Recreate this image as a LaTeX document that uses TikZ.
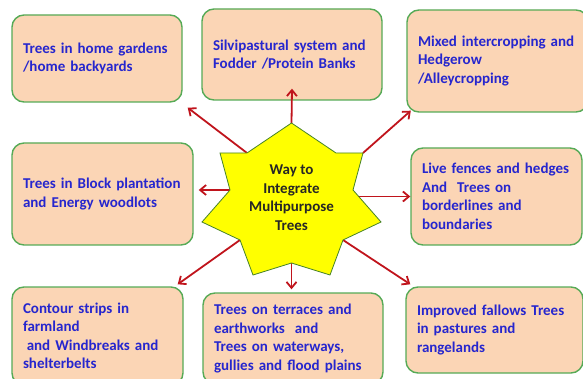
\documentclass[tikz,border=0pt]{standalone}
\usepackage{fontspec}
\setmainfont{Carlito}
\usepackage{tikz}
\usetikzlibrary{arrows.meta, calc}
\usepackage{xcolor}
\definecolor{peach}{RGB}{251,213,181}
\definecolor{boxgreen}{RGB}{86,170,86}
\definecolor{txtblue}{RGB}{38,38,206}
\definecolor{arrowred}{RGB}{192,20,28}
\definecolor{starfill}{RGB}{255,255,0}
\definecolor{stargreen}{RGB}{70,130,40}

\begin{document}
\begin{tikzpicture}[x=1pt, y=-1pt,
  font=\bfseries\fontsize{15}{18.5}\selectfont,
  topic/.style={draw=boxgreen, line width=1.4pt, fill=peach, rounded corners=12pt,
    text=txtblue, align=left, inner xsep=11pt, inner ysep=0pt},
  arr/.style={draw=arrowred, line width=1.8pt, -{Straight Barb[length=6pt,width=10pt]}},
  hubstar/.style={draw=stargreen, line width=0.8pt, fill=starfill}]
  \clip (0,0) rectangle (583,379);

  % topic boxes: top row
  \node[topic, text width=148pt, minimum height=87pt] (b1) at (97,58.5)
    {Trees in home gardens\\/home backyards};
  \node[topic, text width=158pt, minimum height=91pt] (b2) at (292,54.5)
    {Silvipastural system and\\Fodder /Protein Banks};
  \node[topic, text width=159pt, minimum height=102pt] (b3) at (497.5,61)
    {Mixed intercropping and\\Hedgerow\\/Alleycropping};
  % middle row
  \node[topic, text width=159pt, minimum height=102pt] (b4) at (102.5,194)
    {Trees in Block plantation\\and Energy woodlots};
  \node[topic, text width=149pt, minimum height=97pt] (b5) at (496.5,196.5)
    {Live fences and hedges\\And~ Trees on\\borderlines and\\boundaries};
  % bottom row
  \node[topic, text width=149pt, minimum height=98pt] (b6) at (97.5,336)
    {Contour strips in\\farmland\\\hspace*{0.25em}and Windbreaks and\\shelterbelts};
  \node[topic, text width=158pt, minimum height=91pt] (b7) at (293,338.5)
    {Trees on terraces and\\earthworks~ and\\Trees on waterways,\\gullies and flood plains};
  \node[topic, text width=155pt, minimum height=86pt] (b8) at (494.5,330)
    {Improved fallows Trees\\in pastures and\\rangelands};

  % star corners (p = outer points, i = inner notches)
  \foreach \n/\px/\py in {p0/291.5/123, i0/247/153, p1/220/153, i1/230/190,
      p2/202/222, i2/240/240, p3/253/275, i3/291.5/263, p4/330/275,
      i4/343/240, p5/381/222, i5/353/190, p6/363/153, i6/336/153}
    \coordinate (\n) at (\px,\py);

  % arrows out of the star
  \draw[arr] (i0) -- ($(b1.south east)+(5,5)$);
  \draw[arr] (p0) -- ($(b2.south)+(0,-12)$);
  \draw[arr] (p6) -- ($(b3.south west)+(4.5,-2)$);
  \draw[arr, shorten >=5pt] (i1) -- (i1 -| b4.east);
  \draw[arr] (b5.west -| i5) -- (b5.west);
  \draw[arr] (i2) -- ($(b6.north east)+(-6,-2)$);
  \draw[arr, shorten >=3pt] (i3) -- (i3 |- b7.north);
  \draw[arr] (i4) -- ($(b8.north west)+(5,-2)$);

  % the star
  \draw[hubstar] (p0) -- (i0) -- (p1) -- (i1) -- (p2) -- (i2) -- (p3) -- (i3)
    -- (p4) -- (i4) -- (p5) -- (i5) -- (p6) -- (i6) -- cycle;
  \node[text=black!85, align=center] (hub) at (291.5,197.5)
    {Way to\\Integrate\\Multipurpose\\Trees};
\end{tikzpicture}
\end{document}
